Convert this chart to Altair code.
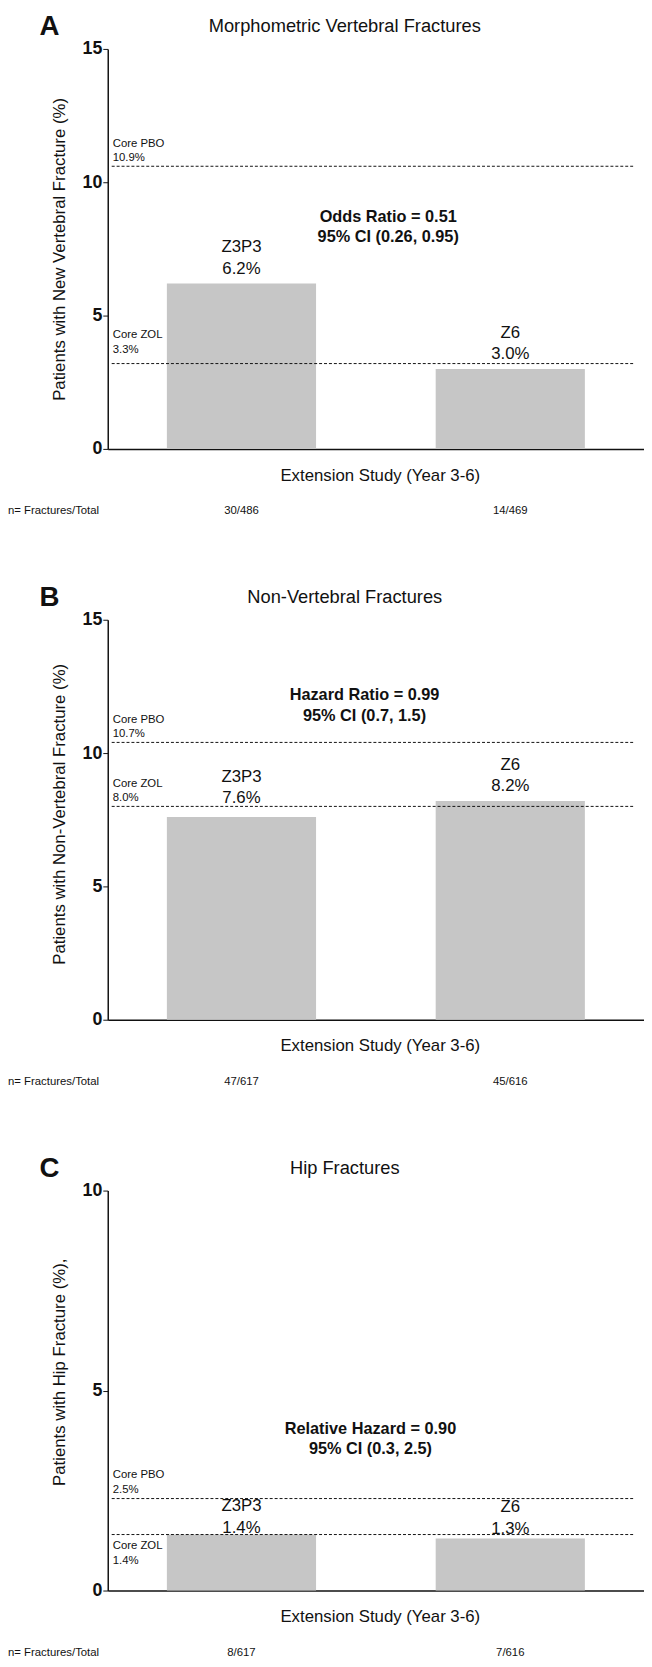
import altair as alt
import pandas as pd

# ---------------- data ----------------
LETTERS = ["A", "B", "C"]
TITLES = ["Morphometric Vertebral Fractures", "Non-Vertebral Fractures", "Hip Fractures"]
Y_TITLES = [
    "Patients with New Vertebral Fracture (%)",
    "Patients with Non-Vertebral Fracture (%)",
    "Patients with Hip Fracture (%),",
]
Y_MAX = [15, 15, 10]
Y_TICKS = [[0, 5, 10, 15], [0, 5, 10, 15], [0, 5, 10]]

GROUPS = ["Z3P3", "Z6"]
RATES = [[6.2, 3.0], [7.6, 8.2], [1.4, 1.3]]
RATE_LABELS = [["6.2%", "3.0%"], ["7.6%", "8.2%"], ["1.4%", "1.3%"]]
COUNTS = [["30/486", "14/469"], ["47/617", "45/616"], ["8/617", "7/616"]]

REF_NAMES = ["Core PBO", "Core ZOL"]
REF_LEVELS = [[10.6, 3.2], [10.4, 8.0], [2.3, 1.4]]
REF_LABELS = [["10.9%", "3.3%"], ["10.7%", "8.0%"], ["2.5%", "1.4%"]]

STAT_LINES = [
    ["Odds Ratio = 0.51", "95% CI (0.26, 0.95)"],
    ["Hazard Ratio = 0.99", "95% CI (0.7, 1.5)"],
    ["Relative Hazard = 0.90", "95% CI (0.3, 2.5)"],
]
STAT_LEVELS = [8.75, 12.2, 4.07]

X_TITLE = "Extension Study (Year 3-6)"
N_LABEL = "n= Fractures/Total"

# ---------------- layout / style ----------------
FONT = "Liberation Sans"
W, H = 543, 405
GRAY = "#c6c6c6"
INK = "#111111"
BAR_DY = [[-15, -15], [-19, -15], [-7, -10]]      # pct-line offset above bar top
REF_DY = [[-23, -29], [-23, -23], [-24, 12]]      # name-line offset from reference line
STAT_X = [284, 260, 266]
YTITLE_DY = [0, -6, -19]
RULE_END = 534


def panel(i):
    df = pd.DataFrame({
        "group": GROUPS,
        "rate": RATES[i],
        "pct": RATE_LABELS[i],
        "n": COUNTS[i],
    })
    xenc = alt.X(
        "group:N", sort=GROUPS,
        scale=alt.Scale(paddingInner=0.445, paddingOuter=0.22),
        axis=alt.Axis(title=None, labels=False, ticks=False, domain=True,
                      domainColor=INK, domainWidth=1.5),
    )
    yaxis = alt.Axis(
        values=Y_TICKS[i], grid=False, tickSize=5, tickColor=INK, tickWidth=1,
        domainColor=INK, domainWidth=1.5, labelFontSize=18, labelFontWeight="bold",
        labelColor=INK, labelPadding=1, titleFontSize=17, titleFontWeight="normal",
        titleColor=INK, titleX=-49, titleY=H / 2 + YTITLE_DY[i], titleAngle=270,
        titleAlign="center", titleBaseline="middle",
    )
    yscale = alt.Scale(domain=[0, Y_MAX[i]], nice=False)

    def yenc(field):
        return alt.Y(field + ":Q", scale=yscale, axis=yaxis, title=Y_TITLES[i])

    base = alt.Chart(df)
    layers = [base.mark_bar(color=GRAY).encode(x=xenc, y=yenc("rate"))]

    for j in range(len(GROUPS)):
        row = base.transform_filter(alt.datum.group == GROUPS[j])
        layers.append(row.mark_text(dy=BAR_DY[i][j], fontSize=17, color=INK).encode(
            x=xenc, y=yenc("rate"), text="pct:N"))
        layers.append(row.mark_text(dy=BAR_DY[i][j] - 21.5, fontSize=17, color=INK).encode(
            x=xenc, y=yenc("rate"), text="group:N"))

    # reference (core study) dashed lines
    ref = pd.DataFrame({"level": REF_LEVELS[i], "name": REF_NAMES, "lab": REF_LABELS[i]})
    rbase = alt.Chart(ref)
    layers.append(rbase.mark_rule(color=INK, strokeDash=[3, 2], strokeWidth=1).encode(
        y=yenc("level"), x=alt.value(4), x2=alt.value(RULE_END)))
    for j in range(len(REF_NAMES)):
        rrow = rbase.transform_filter(alt.datum.name == REF_NAMES[j])
        layers.append(rrow.mark_text(dy=REF_DY[i][j], align="left", fontSize=11.5, color=INK).encode(
            x=alt.value(5), y=yenc("level"), text="name:N"))
        layers.append(rrow.mark_text(dy=REF_DY[i][j] + 15, align="left", fontSize=11.5, color=INK).encode(
            x=alt.value(5), y=yenc("level"), text="lab:N"))

    # statistics annotation
    st = pd.DataFrame({"lvl": [STAT_LEVELS[i]], "t1": [STAT_LINES[i][0]], "t2": [STAT_LINES[i][1]]})
    sbase = alt.Chart(st)
    layers.append(sbase.mark_text(dy=1, fontSize=16.5, fontWeight="bold", color=INK).encode(
        x=alt.value(STAT_X[i]), y=yenc("lvl"), text="t1:N"))
    layers.append(sbase.mark_text(dy=22, fontSize=16.5, fontWeight="bold", color=INK).encode(
        x=alt.value(STAT_X[i]), y=yenc("lvl"), text="t2:N"))

    # counts row
    layers.append(base.mark_text(fontSize=11.5, color=INK).encode(
        x=xenc, y=alt.value(H + 63), text="n:N"))
    layers.append(alt.Chart(pd.DataFrame({"t": [N_LABEL]})).mark_text(
        align="left", fontSize=11.5, color=INK).encode(
        x=alt.value(-101), y=alt.value(H + 63), text="t:N"))

    # x title, panel title, panel letter
    layers.append(alt.Chart(pd.DataFrame({"t": [X_TITLE]})).mark_text(
        fontSize=17, color=INK).encode(x=alt.value(276), y=alt.value(H + 27), text="t:N"))
    layers.append(alt.Chart(pd.DataFrame({"t": [TITLES[i]]})).mark_text(
        fontSize=18.5, color=INK).encode(x=alt.value(240), y=alt.value(-23), text="t:N"))
    layers.append(alt.Chart(pd.DataFrame({"t": [LETTERS[i]]})).mark_text(
        align="left", fontSize=28, fontWeight="bold", color=INK).encode(
        x=alt.value(-69), y=alt.value(-22), text="t:N"))

    return alt.layer(*layers).properties(width=W, height=H)


chart = (
    alt.vconcat(*[panel(i) for i in range(3)], spacing=173, bounds="flush")
    .properties(padding={"left": 0, "top": -5, "right": 0, "bottom": 0})
    .configure(font=FONT)
    .configure_view(stroke=None)
)

chart.save("out.html", embed_options={"renderer": "svg", "actions": False})
